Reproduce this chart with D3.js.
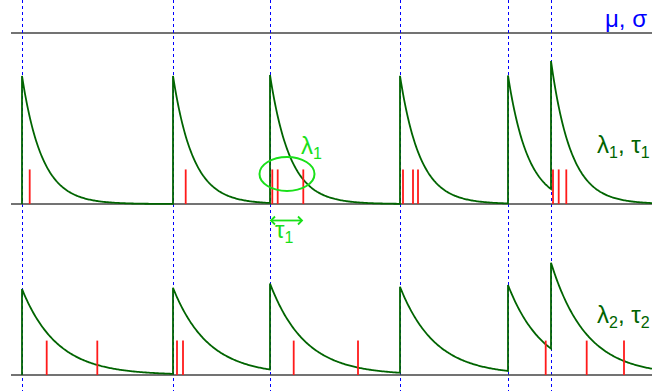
<!DOCTYPE html>
<html>
<head>
<meta charset="utf-8">
<script src="https://cdn.jsdelivr.net/npm/d3@7"></script>
<style>
  body { margin: 0; background: #fff; }
  svg { display: block; font-family: "Liberation Sans", Arial, sans-serif; }
</style>
</head>
<body>
<svg id="chart" width="652" height="391"></svg>
<script>
//
// Data (time units)
//

// shared onset times (blue dashed lines, jumps of both kernels)
const onsets = [0.11, 1.62, 2.59, 3.89, 4.97, 5.40];
// observed spikes for each channel
const spikes1 = [0.187, 1.747, 2.613, 2.667, 2.923, 3.92, 4.02, 4.07, 5.42, 5.477, 5.553];
const spikes2 = [0.357, 0.863, 1.66, 1.72, 2.827, 3.47, 5.347, 5.757, 6.13];
// decay constants
const tau1 = 0.20;
const tau2 = 0.35;
// jump size and spike mark height (in kernel units)
const jump = 1;
const spikeH1 = 0.27;
const spikeH2 = 0.40;

// colors
const colorAxis = "#444";
const colorOnset = "#0000ff";
const colorKernel = "#006400";
const colorSpike = "#ff1a1a";
const colorNote = "#19e019";

//
// Setup
//

const svg = d3.select("#chart");
const width = 652, height = 391;

const x = d3.scaleLinear().domain([0, 6.41]).range([11, width]);
const y1 = d3.scaleLinear().domain([0, 1]).range([204, 76]);
const y2 = d3.scaleLinear().domain([0, 1]).range([375, 289]);

// summed exponential kernel, sampled with a vertical jump at every onset
function kernel(tau) {
  const pts = [[onsets[0], 0]];
  const tEnd = x.domain()[1];
  for (let i = 0; i < onsets.length; i++) {
    const t0 = onsets[i];
    const t1 = i < onsets.length - 1 ? onsets[i + 1] : tEnd;
    for (let t = t0; t <= t1 + 1e-9; t += 0.01) {
      pts.push([t, value(t, tau, i)]);
    }
    pts.push([t1, value(t1, tau, i)]);
  }
  return pts;
}

function value(t, tau, upTo) {
  let v = 0;
  for (let j = 0; j <= upTo; j++) v += jump * Math.exp(-(t - onsets[j]) / tau);
  return v;
}

function drawPanel(yScale, tau, spikes, spikeH) {
  // baseline
  svg.append("line")
    .attr("x1", x(0)).attr("x2", width)
    .attr("y1", yScale(0)).attr("y2", yScale(0))
    .attr("stroke", colorAxis).attr("stroke-width", 1.5);

  const line = d3.line().x(d => x(d[0])).y(d => yScale(d[1]));
  svg.append("path")
    .attr("d", line(kernel(tau)))
    .attr("fill", "none")
    .attr("stroke", colorKernel)
    .attr("stroke-width", 1.8);

  svg.selectAll(null)
    .data(spikes)
    .join("line")
    .attr("x1", d => x(d)).attr("x2", d => x(d))
    .attr("y1", yScale(0)).attr("y2", yScale(spikeH))
    .attr("stroke", colorSpike).attr("stroke-width", 1.8);
}

// top line (mu, sigma)
svg.append("line")
  .attr("x1", x(0)).attr("x2", width)
  .attr("y1", 33).attr("y2", 33)
  .attr("stroke", colorAxis).attr("stroke-width", 1.5);

// onset markers
svg.selectAll(null)
  .data(onsets)
  .join("line")
  .attr("x1", d => Math.round(x(d)) + 0.5).attr("x2", d => Math.round(x(d)) + 0.5)
  .attr("y1", 0).attr("y2", height)
  .attr("stroke", colorOnset).attr("stroke-width", 1)
  .attr("stroke-dasharray", "3,3");

drawPanel(y1, tau1, spikes1, spikeH1);
drawPanel(y2, tau2, spikes2, spikeH2);

//
// Labels
//

function label(tx, ty, parts, color) {
  const t = svg.append("text")
    .attr("x", tx).attr("y", ty)
    .attr("fill", color)
    .style("font-size", "24px");
  let low = false;
  parts.forEach(p => {
    if (p.sub) {
      t.append("tspan").attr("dy", low ? 0 : 5).style("font-size", "16px").text(p.sub);
      low = true;
    } else {
      t.append("tspan").attr("dy", low ? -5 : 0).text(p.txt);
      low = false;
    }
  });
}

label(605, 27, [{ txt: "μ, σ" }], colorOnset);
label(597, 153, [{ txt: "λ" }, { sub: "1" }, { txt: ", τ" }, { sub: "1" }], colorKernel);
label(597, 323, [{ txt: "λ" }, { sub: "2" }, { txt: ", τ" }, { sub: "2" }], colorKernel);

// annotation: ellipse around spikes, lambda and tau arrow
svg.append("ellipse")
  .attr("cx", 287).attr("cy", 174)
  .attr("rx", 27.5).attr("ry", 17)
  .attr("fill", "none")
  .attr("stroke", colorNote).attr("stroke-width", 2);

label(301, 154, [{ txt: "λ" }, { sub: "1" }], colorNote);

const ax0 = x(onsets[2]), ax1 = x(onsets[2] + tau1 * 1.65), ay = 220.5;
svg.append("line")
  .attr("x1", ax0 + 1).attr("x2", ax1 - 1)
  .attr("y1", ay).attr("y2", ay)
  .attr("stroke", colorNote).attr("stroke-width", 1.8);
svg.append("path")
  .attr("d", `M${ax0 + 5},${ay - 4}L${ax0 + 1},${ay}L${ax0 + 5},${ay + 4}M${ax1 - 5},${ay - 4}L${ax1 - 1},${ay}L${ax1 - 5},${ay + 4}`)
  .attr("fill", "none")
  .attr("stroke", colorNote).attr("stroke-width", 1.8);

label(275, 238, [{ txt: "τ" }, { sub: "1" }], colorNote);
</script>
</body>
</html>
